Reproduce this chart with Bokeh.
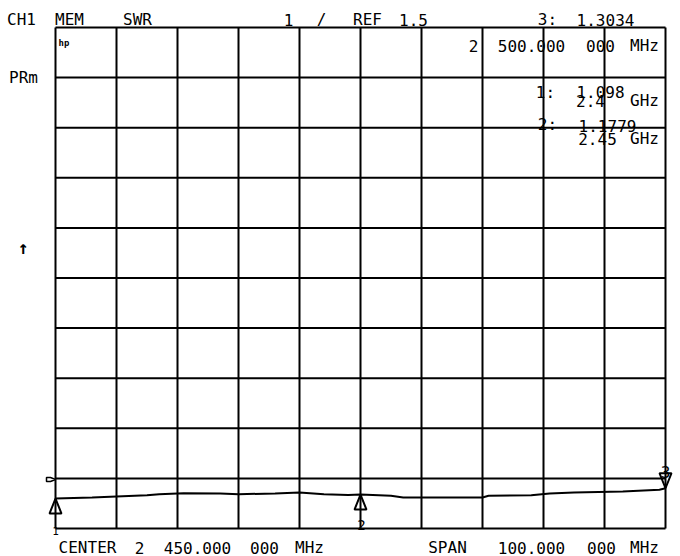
from bokeh.plotting import figure
from bokeh.models import Label, Range1d
from bokeh.embed import file_html
from bokeh.resources import INLINE

# SWR trace, 2.40 - 2.50 GHz
freq_ghz = [2.400, 2.406, 2.410, 2.415, 2.417, 2.421, 2.427, 2.430, 2.436, 2.440,
            2.444, 2.448, 2.450, 2.455, 2.457, 2.470, 2.471, 2.478, 2.481, 2.485,
            2.493, 2.499, 2.500]
swr = [1.098, 1.119, 1.139, 1.165, 1.185, 1.205, 1.199, 1.185, 1.199, 1.219,
       1.185, 1.170, 1.1779, 1.153, 1.119, 1.119, 1.153, 1.165, 1.199, 1.219,
       1.239, 1.272, 1.3034]

# markers
marker_id = ["1", "2", "3"]
marker_freq = [2.40, 2.45, 2.50]
marker_swr = [1.098, 1.1779, 1.3034]

# display grid: 10 div x 10 div, 10 MHz/div, 1 SWR/div, ref 1.5
x_ticks = [2.40 + 0.01 * i for i in range(11)]
y_ticks = [0.5 + i for i in range(11)]
ref_value = 1.5

FONT = "DejaVu Sans Mono"
W, H = 680, 556
# graticule placement on the page (pixels)
GX0, GX1, GY0, GY1 = 55, 665, 27, 528
sx = (GX1 - GX0) / (x_ticks[-1] - x_ticks[0])
sy = (GY1 - GY0) / (y_ticks[-1] - y_ticks[0])


def rx(px):
    return x_ticks[0] + (px - GX0) / sx


def ry(py):
    return y_ticks[0] + (GY1 - py) / sy


p = figure(width=W, height=H, min_border=0,
           x_range=Range1d(rx(0), rx(W)), y_range=Range1d(ry(H), ry(0)),
           x_axis_location=None, y_axis_location=None,
           toolbar_location=None, output_backend="svg")
p.background_fill_color = "white"
p.border_fill_color = "white"
p.outline_line_color = None
p.grid.visible = False

# graticule
p.segment(x0=x_ticks, y0=[y_ticks[0]] * len(x_ticks), x1=x_ticks,
          y1=[y_ticks[-1]] * len(x_ticks), line_color="black", line_width=2)
p.segment(x0=[x_ticks[0]] * len(y_ticks), y0=y_ticks, x1=[x_ticks[-1]] * len(y_ticks),
          y1=y_ticks, line_color="black", line_width=2)

p.line(freq_ghz, swr, line_color="black", line_width=2)


def txt(s, cx, base, size=16, align="center", style="normal"):
    p.add_layout(Label(x=rx(cx), y=ry(base), text=s, text_font=FONT,
                       text_font_size=f"{size}px", text_align=align,
                       text_baseline="alphabetic", text_color="black",
                       text_font_style=style))


# header
txt("CH1", 21, 19)
txt("MEM", 69, 19)
txt("SWR", 137, 19)
txt("1", 288, 19)
txt("/", 321, 19)
txt("REF", 367, 19)
txt(str(ref_value), 413, 19)
txt("3:", 547, 19)
txt(f"{marker_swr[2]:.4f}", 605, 19)

txt("2", 473, 45)
txt("500.000", 531, 45)
txt("000", 600, 45)
txt("MHz", 644, 45)

txt("PRm", 23, 77)
txt("\u2191", 23, 247, size=18, style="bold")
txt("hp", 58, 42, size=9, align="left", style="bold")

# marker readouts
txt("1:", 545, 92)
txt(f"{marker_swr[0]:.3f}", 600, 91)
txt("2.4", 590, 100)
txt("GHz", 644, 100)
txt("2:", 547, 124)
txt(f"{marker_swr[1]:.4f}", 607, 125)
txt("2.45", 597, 138)
txt("GHz", 644, 138)

# footer
txt("CENTER", 87, 547)
txt("2", 139, 547)
txt("450.000", 197, 547)
txt("000", 264, 547)
txt("MHz", 309, 547)
txt("SPAN", 447, 547)
txt("100.000", 531, 547)
txt("000", 601, 547)
txt("MHz", 644, 547)

# reference position pointer at left edge
p.patch([rx(46), rx(50), rx(55), rx(50), rx(46)],
        [ry(477), ry(477), ry(479), ry(481), ry(481)],
        fill_color="white", line_color="black", line_width=1.5)

# marker triangles
hw = 6 / sx
hh = 15 / sy
for mid, f, v in zip(marker_id, marker_freq, marker_swr):
    base = v - hh if mid != "3" else v + hh
    p.patch([f, f - hw, f + hw], [v, base, base],
            fill_alpha=0, line_color="black", line_width=2)

txt("1", 55, 530, size=11)
txt("2", 361, 524, size=14)
txt("3", 665, 471, size=16)

open("out.html", "w").write(file_html(p, INLINE))
